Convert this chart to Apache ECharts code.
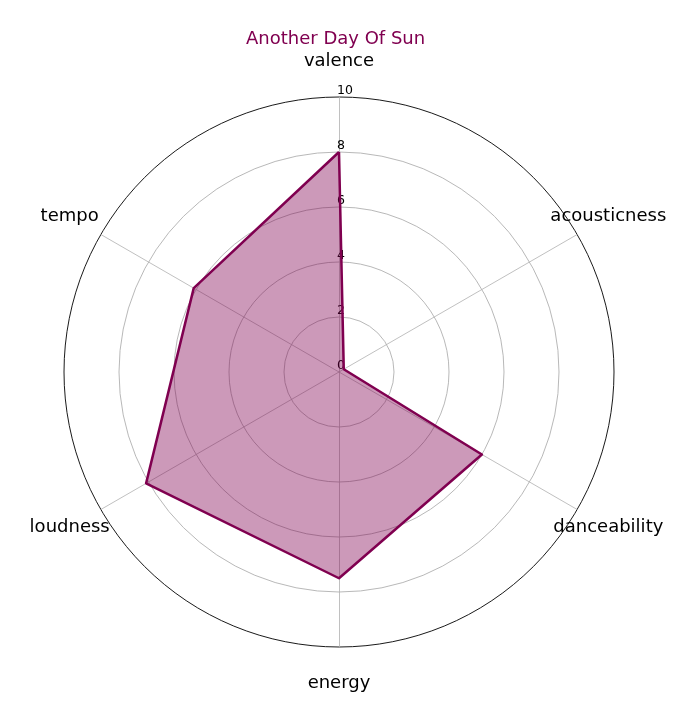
<!DOCTYPE html>
<html>
<head>
<meta charset="utf-8">
<script src="https://cdn.jsdelivr.net/npm/echarts@6/dist/echarts.min.js"></script>
<style>
html,body{margin:0;padding:0;background:#fff;}
#chart{width:695px;height:721px;}
</style>
</head>
<body>
<div id="chart"></div>
<script>
const titleText = 'Another Day Of Sun';
const categories = ['valence', 'tempo', 'loudness', 'energy', 'danceability', 'acousticness'];
const values = [8.0, 6.1, 8.1, 7.5, 6.0, 0.2];
const rMax = 10;
const tickStep = 2;

const mainColor = '#800050';
const font = 'DejaVu Sans';

const chart = echarts.init(document.getElementById('chart'), null, {renderer: 'canvas'});

const indicator = categories.map(function (name, i) {
  const ind = {name: name, max: rMax, min: 0};
  if (i === 0) {
    ind.axisLabel = {
      show: true,
      color: '#000',
      fontFamily: font,
      fontSize: 12.5,
      align: 'left',
      verticalAlign: 'bottom',
      margin: 2
    };
  }
  return ind;
});

chart.setOption({
  animation: false,
  backgroundColor: '#fff',
  title: {
    text: titleText,
    left: 241,
    top: 25,
    textStyle: {color: mainColor, fontFamily: font, fontSize: 18, fontWeight: 'normal'}
  },
  radar: {
    center: [339, 372],
    radius: 275,
    shape: 'circle',
    splitNumber: rMax / tickStep,
    startAngle: 90,
    indicator: indicator,
    nameGap: 36,
    axisName: {
      color: '#000',
      fontFamily: font,
      fontSize: 18,
      align: 'center',
      verticalAlign: 'middle'
    },
    axisLine: {show: true, lineStyle: {color: '#b0b0b0', width: 0.8}},
    axisTick: {show: false},
    axisLabel: {show: false},
    splitLine: {
      show: true,
      lineStyle: {color: ['#b0b0b0', '#b0b0b0', '#b0b0b0', '#b0b0b0', '#b0b0b0', '#000000'], width: 0.9}
    },
    splitArea: {show: false}
  },
  series: [{
    type: 'radar',
    symbol: 'none',
    data: [{
      value: values,
      name: titleText
    }],
    lineStyle: {color: mainColor, width: 2.5},
    areaStyle: {color: 'rgba(128,0,80,0.4)', opacity: 1},
    itemStyle: {color: mainColor},
    z: 3
  }]
});
</script>
</body>
</html>
